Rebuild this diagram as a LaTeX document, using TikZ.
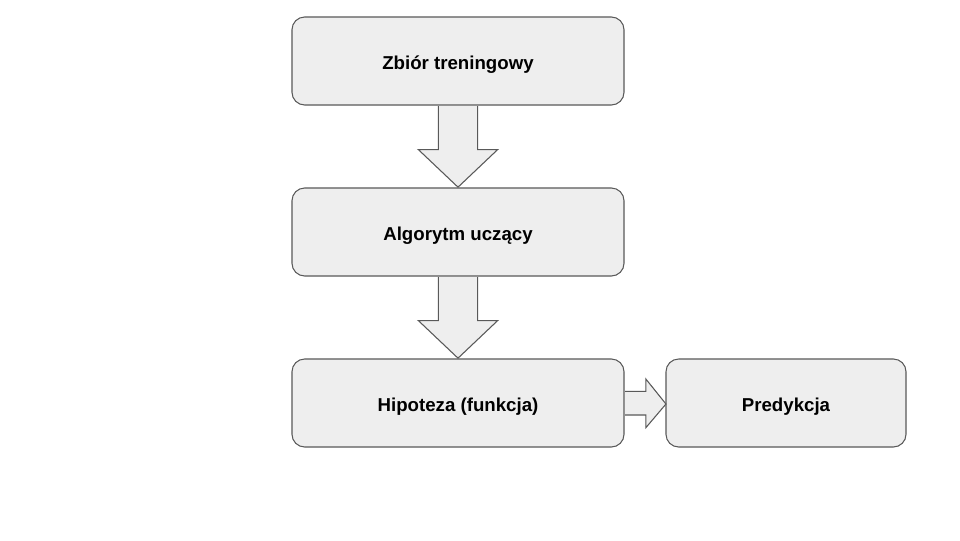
\documentclass[tikz,border=0pt]{standalone}
\usepackage{fontspec}
\setmainfont{Liberation Sans}
\usetikzlibrary{calc}
\definecolor{boxfill}{HTML}{EEEEEE}
\definecolor{boxline}{HTML}{595959}
\begin{document}
\begin{tikzpicture}[x=0.75pt,y=-0.75pt,
  box/.style={draw=boxline,fill=boxfill,rounded corners=9.5pt,line width=0.8pt,
    minimum height=66pt,inner sep=0pt,text height=12pt,text depth=0pt,
    font=\bfseries\fontsize{14}{16}\selectfont},
  blockarrow/.style={draw=boxline,fill=boxfill,line width=0.8pt,line join=miter}]
\useasboundingbox (0,0) rectangle (960,540);
\fill[white] (0,0) rectangle (960,540);
\node[box,minimum width=249pt] (b1) at (458,61) {Zbiór treningowy};
\node[box,minimum width=249pt] (b2) at (458,232) {Algorytm uczący};
\node[box,minimum width=249pt] (b3) at (458,403) {Hipoteza (funkcja)};
\node[box,minimum width=180pt] (b4) at (786,403) {Predykcja};
\draw[blockarrow] ($(b1.south)+(-19.7,0.5)$) -- ++(0,43.5) -- ++(-20,0) -- ($(b2.north)+(0,-0.3)$) -- ($(b1.south)+(39.7,44)$) -- ++(-20,0) -- ($(b1.south)+(19.7,0.5)$);
\draw[blockarrow] ($(b2.south)+(-19.7,0.5)$) -- ++(0,43.5) -- ++(-20,0) -- ($(b3.north)+(0,-0.3)$) -- ($(b2.south)+(39.7,44)$) -- ++(-20,0) -- ($(b2.south)+(19.7,0.5)$);
\draw[blockarrow] ($(b3.east)+(0.5,-11.7)$) -- ++(20.8,0) -- ++(0,-12.3) -- ($(b4.west)+(0.5,1)$) -- ($(b3.east)+(21.3,24.7)$) -- ++(0,-12.7) -- ($(b3.east)+(0.5,12)$);
\end{tikzpicture}
\end{document}
